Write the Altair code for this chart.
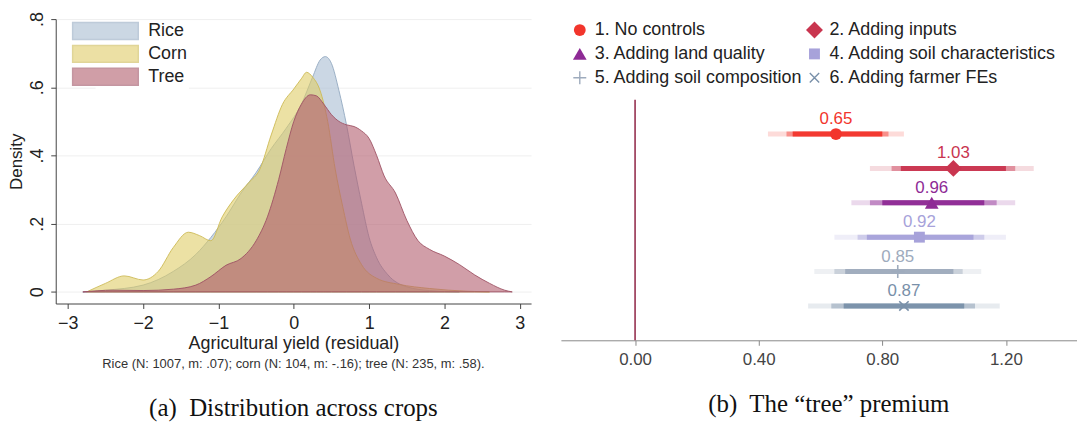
import altair as alt
import pandas as pd

# ---------------- Panel (a): densities ----------------
crops = ["Rice", "Corn", "Tree"]

rice_x = [-2.8, -2.5, -2.0, -1.6, -1.3, -1.1, -0.9, -0.7, -0.5, -0.3, -0.1, 0.1, 0.25,
          0.35, 0.42, 0.5, 0.6, 0.7, 0.8, 0.9, 1.0, 1.1, 1.25, 1.5, 1.8, 2.2]
rice_y = [0.0, 0.005, 0.02, 0.06, 0.11, 0.16, 0.22, 0.29, 0.35, 0.42, 0.48, 0.55, 0.63,
          0.68, 0.69, 0.67, 0.59, 0.49, 0.37, 0.26, 0.16, 0.10, 0.05, 0.015, 0.004, 0.0]

corn_x = [-2.75, -2.5, -2.25, -2.0, -1.8, -1.6, -1.4, -1.25, -1.1, -0.95, -0.8, -0.6, -0.45,
          -0.3, -0.15, 0.0, 0.1, 0.17, 0.25, 0.35, 0.45, 0.55, 0.65, 0.75, 0.9, 1.1, 1.4,
          1.8, 2.3, 2.6]
corn_y = [0.0, 0.025, 0.047, 0.035, 0.06, 0.13, 0.175, 0.165, 0.15, 0.22, 0.27, 0.32, 0.36,
          0.46, 0.55, 0.595, 0.625, 0.644, 0.63, 0.59, 0.50, 0.36, 0.25, 0.155, 0.08, 0.04,
          0.022, 0.01, 0.002, 0.0]

tree_x = [-2.8, -2.4, -2.0, -1.6, -1.3, -1.1, -0.9, -0.7, -0.5, -0.35, -0.2, -0.1, 0.0, 0.1,
          0.22, 0.3, 0.4, 0.5, 0.6, 0.7, 0.8, 0.9, 1.0, 1.1, 1.2, 1.35, 1.5, 1.65, 1.8, 2.0,
          2.2, 2.4, 2.6, 2.8, 2.9]
tree_y = [0.0, 0.005, 0.004, 0.008, 0.02, 0.045, 0.078, 0.098, 0.15, 0.22, 0.33, 0.42, 0.50,
          0.55, 0.578, 0.575, 0.55, 0.52, 0.50, 0.49, 0.485, 0.472, 0.45, 0.40, 0.34, 0.29,
          0.21, 0.15, 0.125, 0.105, 0.08, 0.05, 0.025, 0.005, 0.0]

y_ticks_a = [0, 0.2, 0.4, 0.6, 0.8]
x_ticks_a = [-3, -2, -1, 0, 1, 2, 3]
note_a = "Rice (N: 1007, m: .07); corn (N: 104, m: -.16); tree (N: 235, m: .58)."
caption_a = "(a)\u00a0 Distribution across crops"

fill_colors = ["#A9BDD2", "#E0CD68", "#B25E6E"]
line_colors = ["#93A9C0", "#CDBA55", "#9E5263"]

# ---------------- Panel (b): tree premium ----------------
spec_labels = ["1. No controls", "2. Adding inputs", "3. Adding land quality",
               "4. Adding soil characteristics", "5. Adding soil composition",
               "6. Adding farmer FEs"]
coef = [0.65, 1.03, 0.96, 0.92, 0.85, 0.87]
outer_lo = [0.43, 0.76, 0.70, 0.645, 0.58, 0.56]
outer_hi = [0.87, 1.29, 1.23, 1.20, 1.12, 1.18]
mid_lo = [0.49, 0.83, 0.76, 0.72, 0.645, 0.635]
mid_hi = [0.82, 1.23, 1.17, 1.13, 1.06, 1.10]
inner_lo = [0.51, 0.86, 0.80, 0.75, 0.68, 0.675]
inner_hi = [0.80, 1.20, 1.13, 1.095, 1.03, 1.065]
x_ticks_b = [0.0, 0.4, 0.8, 1.2]
caption_b = "(b)\u00a0 The \u201ctree\u201d premium"

series_colors = ["#F2352C", "#C9354F", "#8E2A95", "#A7A2DA", "#9EABBD", "#7990A9"]
shapes = ["circle", "diamond", "triangle-up", "square",
          "M-1,0L1,0M0,-1L0,1", "M-0.9,-0.9L0.9,0.9M-0.9,0.9L0.9,-0.9"]
marker_sizes = [125, 320, 210, 160, 120, 130]
legend_sizes = [140, 290, 190, 120, 170, 110]

SANS = "Liberation Sans"
SERIF = "Liberation Serif"

# ---------- build panel (a) ----------
dens = pd.concat([
    pd.DataFrame({"crop": "Rice", "x": rice_x, "y": rice_y}),
    pd.DataFrame({"crop": "Corn", "x": corn_x, "y": corn_y}),
    pd.DataFrame({"crop": "Tree", "x": tree_x, "y": tree_y}),
], ignore_index=True)

xs_a = alt.Scale(domain=[-3.16, 3.15], nice=False, zero=False)
ys_a = alt.Scale(domain=[-0.034, 0.8], nice=False, zero=False)

x_axis_a = alt.Axis(values=x_ticks_a, title="Agricultural yield (residual)", grid=False,
                    tickSize=5, labelFontSize=18, titleFontSize=18, labelFont=SANS,
                    titleFont=SANS, titleFontWeight="normal", labelColor="#222",
                    titleColor="#222", domainColor="#444", tickColor="#444",
                    labelPadding=6, titlePadding=2, labelFlush=False)
y_axis_a = alt.Axis(values=y_ticks_a, title="Density", grid=True, gridColor="#EFEFEF",
                    labelExpr="datum.value == 0 ? '0' : replace(format(datum.value, '.1f'), '0.', '.')",
                    labelAngle=270, tickSize=5, labelFontSize=18, titleFontSize=17,
                    labelFont=SANS, titleFont=SANS, titleFontWeight="normal",
                    labelColor="#222", titleColor="#222", domainColor="#444",
                    tickColor="#444", labelPadding=4, titlePadding=3, labelFlush=False)

layers_a = []
for c in crops:
    layers_a.append(
        alt.Chart(dens).transform_filter(alt.datum.crop == c)
        .mark_area(interpolate="monotone", fillOpacity=0.6, strokeWidth=1, strokeOpacity=0.9)
        .encode(
            x=alt.X("x:Q", scale=xs_a, axis=x_axis_a),
            y=alt.Y("y:Q", scale=ys_a, stack=None, axis=y_axis_a),
            fill=alt.Fill("crop:N", scale=alt.Scale(domain=crops, range=fill_colors),
                          legend=alt.Legend(orient="none", legendX=40, legendY=2, title=None,
                                            symbolType="M-4,-1.03L4,-1.03L4,1.03L-4,1.03Z",
                                            symbolSize=272, symbolOpacity=0.6,
                                            labelFontSize=18, labelFont=SANS, labelColor="#222",
                                            labelOffset=34, rowPadding=-1, fillColor="white",
                                            padding=1)),
            stroke=alt.Stroke("crop:N", scale=alt.Scale(domain=crops, range=line_colors),
                              legend=None),
        )
    )

left = alt.layer(*layers_a).properties(
    width=478, height=286,
    title=alt.Title(note_a, subtitle=caption_a, orient="bottom", anchor="middle",
                    fontSize=13, font=SANS, fontWeight="normal", color="#333",
                    subtitleFont=SERIF, subtitleFontSize=25, subtitleColor="#111",
                    subtitlePadding=25, offset=6)
)

# ---------- build panel (b) ----------
coef_df = pd.DataFrame({
    "label": spec_labels, "coef": coef,
    "olo": outer_lo, "ohi": outer_hi, "mlo": mid_lo, "mhi": mid_hi,
    "ilo": inner_lo, "ihi": inner_hi,
})
coef_df["row"] = range(1, len(spec_labels) + 1)
coef_df["idx"] = range(len(spec_labels))

xs_b = alt.Scale(domain=[-0.24, 1.43], nice=False, zero=False)
ys_b = alt.Scale(domain=[0, 7], nice=False, zero=False, reverse=True)
col_b = alt.Color("label:N", scale=alt.Scale(domain=spec_labels, range=series_colors), legend=None)
shape_b = alt.Shape("label:N", scale=alt.Scale(domain=spec_labels, range=shapes), legend=None)
size_b = alt.Size("label:N", scale=alt.Scale(type="ordinal", domain=spec_labels, range=marker_sizes),
                  legend=None)

x_axis_b = alt.Axis(values=x_ticks_b, format=".2f", title=None, grid=False, tickSize=5,
                    labelFontSize=17, labelFont=SANS, labelColor="#444",
                    domainColor="#888", tickColor="#888", labelPadding=6)

base_b = alt.Chart(coef_df)
y_b = alt.Y("row:Q", scale=ys_b, axis=None)

zero_df = pd.DataFrame({"zero": [0.0]})
zero_rule = alt.Chart(zero_df).mark_rule(color="#8E2344", strokeWidth=1.5).encode(
    x=alt.X("zero:Q", scale=xs_b, axis=x_axis_b))

bar_outer = base_b.mark_rule(strokeWidth=5, opacity=0.18).encode(
    x=alt.X("olo:Q", scale=xs_b, axis=x_axis_b), x2="ohi:Q", y=y_b, color=col_b)
bar_mid = base_b.mark_rule(strokeWidth=5, opacity=0.45).encode(
    x=alt.X("mlo:Q", scale=xs_b), x2="mhi:Q", y=y_b, color=col_b)
bar_inner = base_b.mark_rule(strokeWidth=5, opacity=0.95).encode(
    x=alt.X("ilo:Q", scale=xs_b), x2="ihi:Q", y=y_b, color=col_b)
pts_filled = base_b.transform_filter(alt.datum.idx < 4).mark_point(filled=True, opacity=1).encode(
    x=alt.X("coef:Q", scale=xs_b), y=y_b, color=col_b, shape=shape_b, size=size_b)
pts_stroked = base_b.transform_filter(alt.datum.idx >= 4).mark_point(
    filled=False, opacity=1, strokeWidth=1.6).encode(
    x=alt.X("coef:Q", scale=xs_b), y=y_b, color=col_b, shape=shape_b, size=size_b)
value_text = base_b.mark_text(fontSize=17, font=SANS, dy=-15, baseline="middle").encode(
    x=alt.X("coef:Q", scale=xs_b), y=y_b, color=col_b,
    text=alt.Text("coef:Q", format=".2f"))

plot_b = alt.layer(zero_rule, bar_outer, bar_mid, bar_inner, pts_filled, pts_stroked,
                   value_text).properties(width=519, height=242)

# manual legend for panel (b)
leg_base = alt.Chart(coef_df).transform_calculate(
    col="datum.idx % 2", lrow="floor(datum.idx / 2)")
lx = alt.X("col:Q", scale=alt.Scale(domain=[-0.0805, 2.1186], nice=False, zero=False), axis=None)
ly = alt.Y("lrow:Q", scale=alt.Scale(domain=[-0.458, 2.5], nice=False, zero=False, reverse=True), axis=None)
lsize = alt.Size("label:N", scale=alt.Scale(type="ordinal", domain=spec_labels, range=legend_sizes),
                 legend=None)
leg_f = leg_base.transform_filter(alt.datum.idx < 4).mark_point(filled=True, opacity=1).encode(
    x=lx, y=ly, color=col_b, shape=shape_b, size=lsize)
leg_s = leg_base.transform_filter(alt.datum.idx >= 4).mark_point(
    filled=False, opacity=1, strokeWidth=1.4).encode(
    x=lx, y=ly, color=col_b, shape=shape_b, size=lsize)
leg_t = leg_base.mark_text(align="left", baseline="middle", dx=15, fontSize=18, font=SANS,
                           color="#222").encode(x=lx, y=ly, text="label:N")
legend_b = alt.layer(leg_f, leg_s, leg_t).properties(width=519, height=71)

right = alt.vconcat(legend_b, plot_b, spacing=9).properties(
    title=alt.Title(caption_b, orient="bottom", anchor="middle", font=SERIF, fontSize=25,
                    fontWeight="normal", color="#111", offset=25, dx=10)
)

chart = alt.hconcat(left, right, spacing=30).properties(
    padding={"left": 0, "top": 2, "right": 0, "bottom": 0}
).configure_view(stroke=None).resolve_scale(
    color="independent", shape="independent", size="independent")

chart.save("out.html", embed_options={"renderer": "svg", "actions": False})
